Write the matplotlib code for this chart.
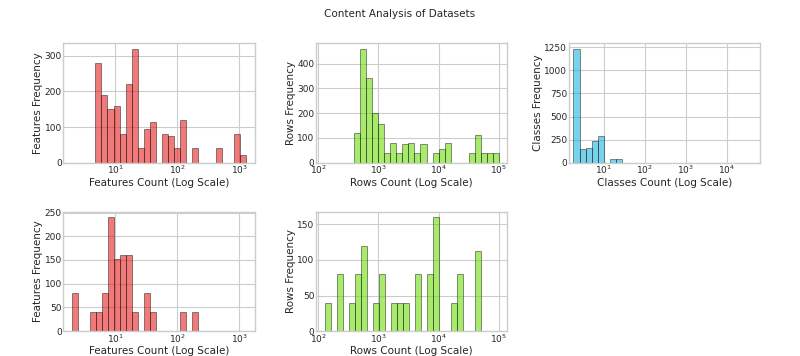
import matplotlib
matplotlib.use("Agg")
import matplotlib.pyplot as plt
from matplotlib.ticker import MultipleLocator
import numpy as np

plt.style.use("seaborn-v0_8-whitegrid")
matplotlib.rcParams.update({'font.size': 7, 'font.family': ['DejaVu Sans']})

# bin ranges (log10 of first / last edge) and counts per bin
feat_top_range = (0.68, 3.107)
feat_top_counts = [280, 190, 150, 160, 80, 222, 320, 40, 95, 115, 0, 80, 75, 40,
                   120, 0, 40, 0, 0, 0, 40, 0, 0, 80, 20]

rows_top_range = (2.60, 5.0)
rows_top_counts = [120, 460, 340, 200, 155, 40, 80, 40, 75, 80, 40, 75, 0, 40,
                   55, 80, 0, 0, 0, 40, 112, 40, 40, 40]

classes_range = (0.263, 1.44)
classes_counts = [1235, 150, 155, 235, 285, 0, 40, 40]

feat_bot_range = (0.30, 2.33)
feat_bot_counts = [80, 0, 0, 40, 40, 80, 240, 152, 160, 160, 40, 0, 80, 40, 0,
                   0, 0, 0, 40, 0, 40]

rows_bot_range = (2.104, 4.70)
rows_bot_counts = [40, 0, 80, 0, 40, 80, 120, 0, 40, 80, 0, 40, 40, 40, 0, 80,
                   0, 80, 160, 0, 0, 40, 80, 0, 0, 112]

red = '#e62121'
green = '#6ede0a'
blue = '#1eb4de'


def log_hist(ax, rng, counts, color, name, ystep):
    edges = np.logspace(rng[0], rng[1], len(counts) + 1)
    ax.hist(edges[:-1], bins=edges, weights=counts, color=color, alpha=0.6,
            edgecolor='black', linewidth=0.5)
    ax.set_xscale('log')
    ax.yaxis.set_major_locator(MultipleLocator(ystep))
    ax.set_xlabel(f"{name} Count (Log Scale)", fontsize=7.5, labelpad=1)
    ax.set_ylabel(f"{name} Frequency", fontsize=7.5, labelpad=1)
    ax.tick_params(labelsize=6.5, pad=1)


fig, axes = plt.subplots(2, 3, figsize=(8, 3.56), dpi=100, sharex='col')
fig.subplots_adjust(left=0.079, right=0.95, top=0.879, bottom=0.07,
                    wspace=0.32, hspace=0.41)

log_hist(axes[0, 0], feat_top_range, feat_top_counts, red, "Features", 100)
log_hist(axes[0, 1], rows_top_range, rows_top_counts, green, "Rows", 100)
log_hist(axes[0, 2], classes_range, classes_counts, blue, "Classes", 250)
log_hist(axes[1, 0], feat_bot_range, feat_bot_counts, red, "Features", 50)
log_hist(axes[1, 1], rows_bot_range, rows_bot_counts, green, "Rows", 50)
axes[1, 2].axis('off')

axes[0, 2].set_xlim(1.39, 65000)
for ax in axes[0]:
    ax.xaxis.set_tick_params(labelbottom=True)

fig.suptitle("Content Analysis of Datasets", fontsize=7.5, y=0.975)

plt.savefig("out.png")
